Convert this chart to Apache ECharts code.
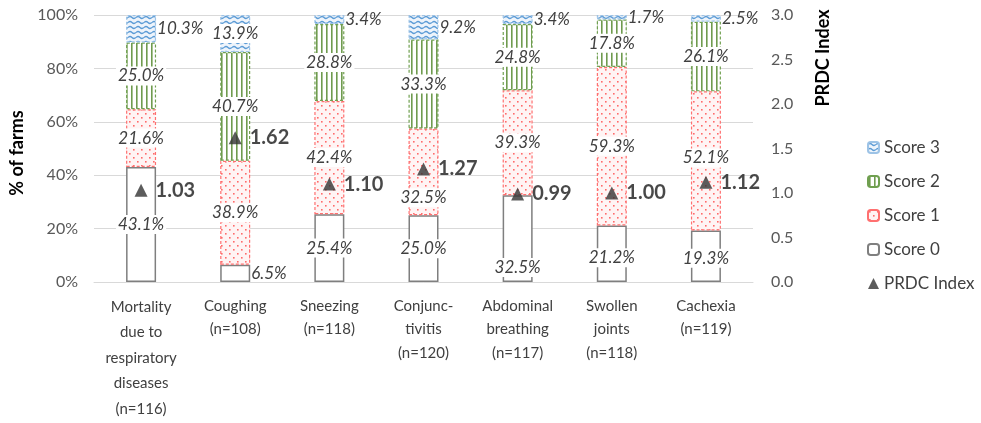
<!DOCTYPE html>
<html>
<head>
<meta charset="utf-8">
<script src="https://cdn.jsdelivr.net/npm/echarts@6/dist/echarts.min.js"></script>
<style>
    html, body { margin: 0; padding: 0; background: #fff; }
    #chart { width: 981px; height: 423px; }
</style>
</head>
<body>
<div id="chart"></div>
<script>
    // categories + values (% of farms per score)
    var categories = [
        'Mortality\ndue to\nrespiratory\ndiseases\n(n=116)',
        'Coughing\n(n=108)',
        'Sneezing\n(n=118)',
        'Conjunc-\ntivitis\n(n=120)',
        'Abdominal\nbreathing\n(n=117)',
        'Swollen\njoints\n(n=118)',
        'Cachexia\n(n=119)'
    ];
    var score0 = [43.1, 6.5, 25.4, 25.0, 32.5, 21.2, 19.3];
    var score1 = [21.6, 38.9, 42.4, 32.5, 39.3, 59.3, 52.1];
    var score2 = [25.0, 40.7, 28.8, 33.3, 24.8, 17.8, 26.1];
    var score3 = [10.3, 13.9, 3.4, 9.2, 3.4, 1.7, 2.5];
    var prdcIndex = [1.03, 1.62, 1.10, 1.27, 0.99, 1.00, 1.12];
    var leftTicks = [0, 20, 40, 60, 80, 100];
    var rightTicks = [0, 0.5, 1, 1.5, 2, 2.5, 3];

    var FONT = 'Lato, "Open Sans", sans-serif';

    // patterns, excel style
    function makePattern(size, draw) {
        var c = document.createElement('canvas');
        c.width = size[0];
        c.height = size[1];
        var ctx = c.getContext('2d');
        ctx.fillStyle = '#ffffff';
        ctx.fillRect(0, 0, size[0], size[1]);
        draw(ctx);
        return {image: c, repeat: 'repeat'};
    }
    var dotPattern = makePattern([8, 8], function (ctx) {
        ctx.fillStyle = '#fff4f4';
        ctx.fillRect(0, 0, 8, 8);
        ctx.fillStyle = '#ff6b6b';
        ctx.fillRect(1, 1, 1.6, 1.6);
        ctx.fillRect(5, 5, 1.6, 1.6);
    });
    var stripePattern = makePattern([5, 4], function (ctx) {
        ctx.fillStyle = '#6f9b4f';
        ctx.fillRect(1, 0, 1.6, 4);
    });
    var wavePattern = makePattern([8, 5], function (ctx) {
        ctx.fillStyle = '#eef4fb';
        ctx.fillRect(0, 0, 8, 5);
        ctx.strokeStyle = '#5b9bd5';
        ctx.lineWidth = 1.2;
        ctx.beginPath();
        ctx.moveTo(0, 2.5);
        ctx.quadraticCurveTo(2, 0.5, 4, 2.5);
        ctx.quadraticCurveTo(6, 4.5, 8, 2.5);
        ctx.stroke();
    });

    // small slices get their label beside the bar
    function withLabels(arr, smallLimit, moved) {
        return arr.map(function (v, i) {
            var d = {value: v};
            if (v < smallLimit) {
                d.label = {position: 'right', offset: [-6, 0], backgroundColor: 'transparent'};
            } else if (moved && moved[i]) {
                d.label = {offset: [0, moved[i]]};
            }
            return d;
        });
    }

    var segLabel = {
        show: true,
        position: 'inside',
        fontFamily: FONT,
        fontSize: 17,
        fontStyle: 'italic',
        color: '#404040',
        backgroundColor: '#ffffff',
        padding: [1, 2],
        formatter: function (p) {
            return p.value.toFixed(1) + '%';
        }
    };

    var barBase = {
        type: 'bar',
        stack: 'farms',
        barWidth: 30,
        label: segLabel
    };

    var option = {
        animation: false,
        grid: {left: 94, right: 228, top: 15, bottom: 141},
        legend: {
            orient: 'vertical',
            left: 862,
            top: 134,
            itemWidth: 11,
            itemHeight: 11,
            itemGap: 17,
            textStyle: {fontFamily: FONT, fontSize: 17, color: '#404040'},
            data: [
                {name: 'Score 3'},
                {name: 'Score 2'},
                {name: 'Score 1'},
                {name: 'Score 0'},
                {name: 'PRDC Index', icon: 'triangle'}
            ]
        },
        xAxis: {
            type: 'category',
            data: categories.map(function (c, i) {
                return {value: c, textStyle: {lineHeight: i === 0 ? 25.5 : 23.5}};
            }),
            axisTick: {show: false},
            axisLine: {lineStyle: {color: '#d9d9d9'}},
            axisLabel: {
                interval: 0,
                margin: 12,
                fontFamily: FONT,
                fontSize: 15,
                color: '#404040'
            }
        },
        yAxis: [{
            type: 'value',
            min: leftTicks[0],
            max: leftTicks[leftTicks.length - 1],
            interval: 20,
            axisLabel: {
                fontFamily: FONT, fontSize: 16, color: '#595959', margin: 16,
                formatter: '{value}%'
            },
            splitLine: {lineStyle: {color: '#d9d9d9'}},
            axisLine: {show: false},
            axisTick: {show: false}
        }, {
            type: 'value',
            min: rightTicks[0],
            max: rightTicks[rightTicks.length - 1],
            interval: 0.5,
            position: 'right',
            axisLabel: {
                fontFamily: FONT, fontSize: 16, color: '#595959', margin: 18,
                formatter: function (v) { return v.toFixed(1); }
            },
            splitLine: {show: false},
            axisLine: {show: false},
            axisTick: {show: false}
        }],
        graphic: [{
            type: 'text',
            x: 17, y: 153,
            rotation: Math.PI / 2,
            style: {
                text: '% of farms', fontFamily: FONT, fontSize: 18, fontWeight: 'bold',
                fill: '#000', align: 'center', verticalAlign: 'middle'
            }
        }, {
            type: 'text',
            x: 823, y: 58,
            rotation: Math.PI / 2,
            style: {
                text: 'PRDC Index', fontFamily: FONT, fontSize: 18, fontWeight: 'bold',
                fill: '#000', align: 'center', verticalAlign: 'middle'
            }
        }],
        series: [
            Object.assign({}, barBase, {
                name: 'Score 0',
                data: withLabels(score0, 10, [0, 0, 0, 0, 29, 4, 2]),
                itemStyle: {color: '#ffffff', borderColor: '#7f7f7f', borderWidth: 1.5}
            }),
            Object.assign({}, barBase, {
                name: 'Score 1',
                data: withLabels(score1, 10, [0, 0, 0, 26, 0, 0, -3]),
                itemStyle: {color: dotPattern, borderColor: '#ff7070', borderWidth: 1.2, borderType: [3, 2]}
            }),
            Object.assign({}, barBase, {
                name: 'Score 2',
                data: withLabels(score2, 10),
                itemStyle: {color: stripePattern, borderColor: '#70a050', borderWidth: 1.2, borderType: [3, 2]}
            }),
            Object.assign({}, barBase, {
                name: 'Score 3',
                data: withLabels(score3, 10.5),
                itemStyle: {color: wavePattern, borderColor: '#9dc3e6', borderWidth: 1.2, borderType: [3, 2]}
            }),
            {
                name: 'PRDC Index',
                type: 'scatter',
                yAxisIndex: 1,
                symbol: 'triangle',
                symbolSize: 13,
                itemStyle: {color: '#333333'},
                data: prdcIndex,
                z: 5,
                label: {
                    show: true,
                    position: 'right',
                    distance: 8,
                    fontFamily: FONT,
                    fontSize: 20,
                    fontWeight: 'bold',
                    color: '#1a1a1a',
                    formatter: function (p) { return p.value.toFixed(2); }
                }
            }
        ]
    };

    var myChart = echarts.init(document.getElementById('chart'));
    myChart.setOption(option);
</script>
</body>
</html>
